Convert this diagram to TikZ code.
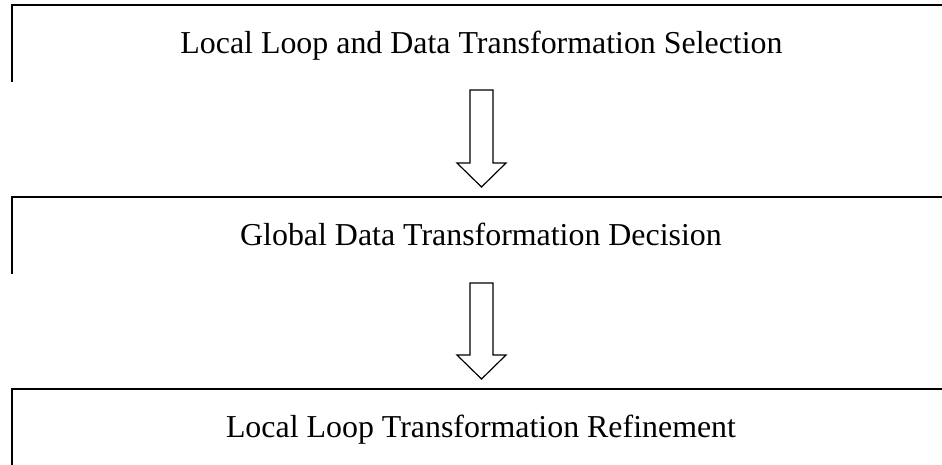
\documentclass[tikz,border=0pt]{standalone}
\usepackage{fontspec}
\setmainfont{Liberation Serif}
\usetikzlibrary{calc}
\begin{document}
\begin{tikzpicture}[x=1pt,y=-1pt,
  stage/.style={line width=2.6pt,line cap=rect},
  label/.style={font=\fontsize{31.9}{38}\selectfont,anchor=base,inner sep=0pt},
  flow/.style={line width=1.2pt,line join=miter,fill=white}]
\useasboundingbox (0,0) rectangle (942,464);
\begin{scope}
\clip (0,0) rectangle (942,464);
% stage frames (open at the bottom, running past the right border)
\draw[stage] (12,81) -- (12,5) -- (960,5);
\draw[stage] (12,273) -- (12,197) -- (960,197);
\draw[stage] (12,470) -- (12,389) -- (960,389);
\end{scope}
% stage titles
\node[label] (s1) at (481.5,53) {Local Loop and Data Transformation Selection};
\node[label] (s2) at (481,245) {Global Data Transformation Decision};
\node[label] (s3) at (481,437) {Local Loop Transformation Refinement};
% block arrows between stages
\coordinate (a1) at (481.5,90);
\coordinate (a2) at (481.5,283);
\foreach \a/\len in {a1/97,a2/96}{
  \draw[flow] ($(\a)+(-11.5,0)$) -- ++(23,0) -- ++(0,{\len-24}) -- ++(13,0)
     -- ($(\a)+(0,\len)$) -- ($(\a)+(-24.5,{\len-24})$) -- ++(13,0) -- cycle;
}
\end{tikzpicture}
\end{document}
